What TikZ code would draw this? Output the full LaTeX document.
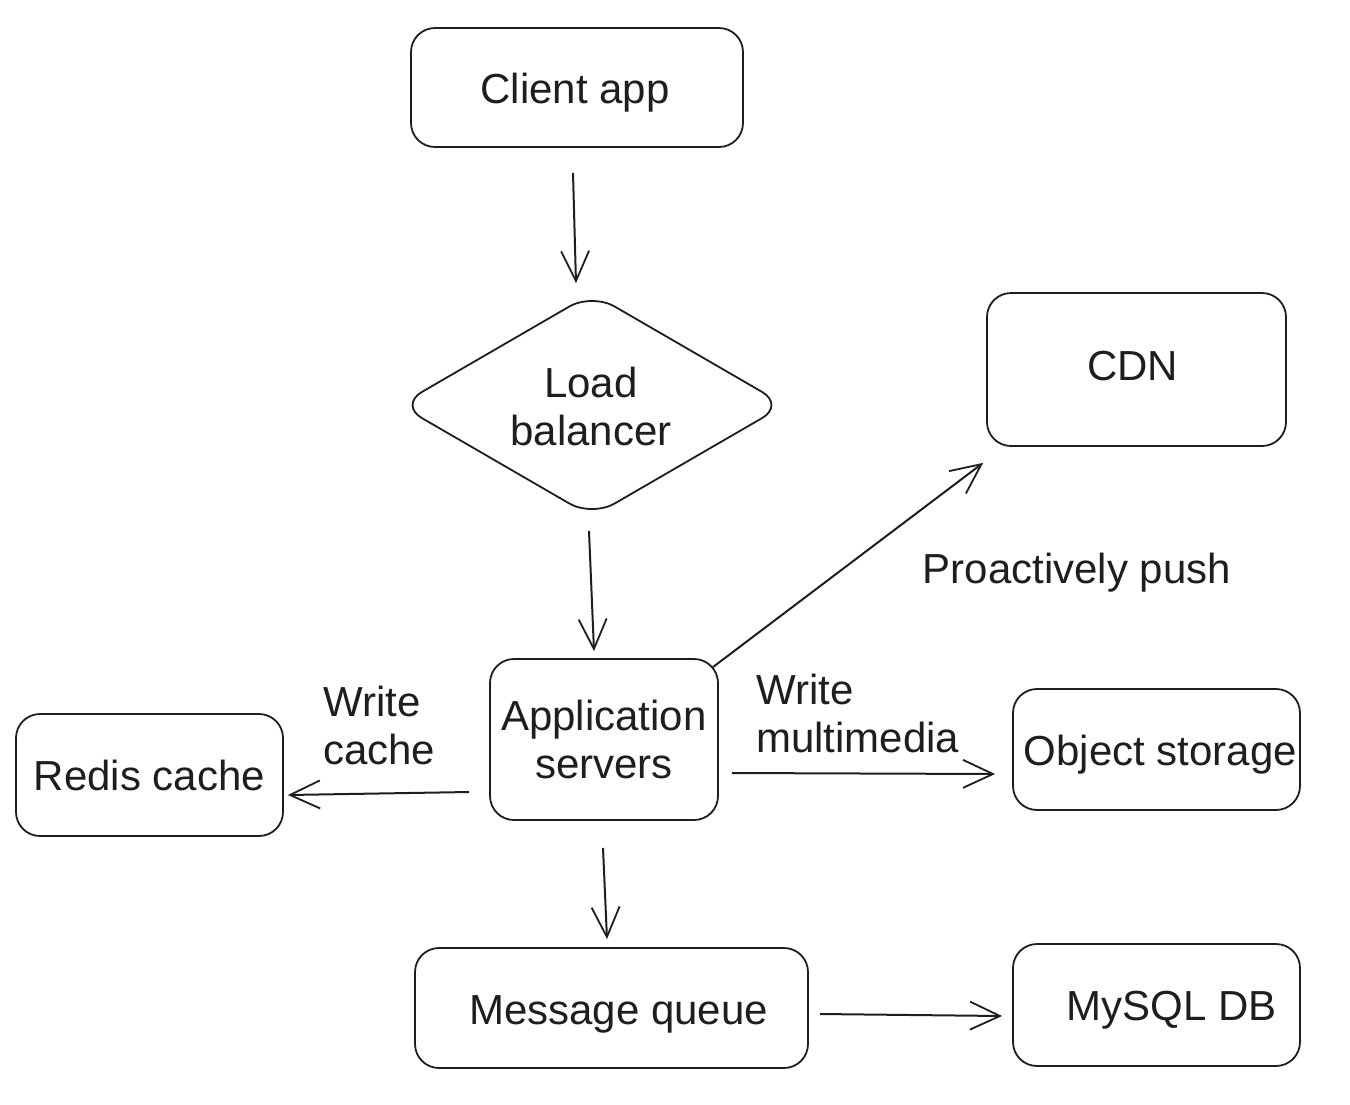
\documentclass[tikz,border=0pt]{standalone}
\usepackage{fontspec}
\setmainfont{Liberation Sans}
\usetikzlibrary{arrows.meta,calc,shapes.geometric}
\definecolor{ink}{HTML}{1E1E1E}
\tikzset{
  box/.style={draw=ink, line width=1.8pt, rounded corners=24pt, inner sep=0pt, align=center, text=ink},
  lbl/.style={inner sep=0pt, text=ink, align=left},
  intext/.style={text=ink, align=center},
  arr/.style={draw=ink, line width=2pt, -{Straight Barb[length=30pt,width=28pt,line width=1.8pt]}}
}
\begin{document}
\begin{tikzpicture}[x=1pt,y=-1pt,font=\fontsize{42}{48}\selectfont]
\useasboundingbox (0,0) rectangle (1350,1104);
\node[box, minimum width=332pt, minimum height=119pt, label={[intext,xshift=-2pt,yshift=-5pt]center:Client app}] (client) at (577,87.5) {};
\node[box, diamond, rounded corners=26pt, minimum width=386pt, minimum height=224pt] (lb) at (592,405) {};
\node[lbl, align=center] (lbtext) at (591,406) {Load\\balancer};
\node[box, minimum width=299pt, minimum height=153pt, label={[intext,xshift=-4pt,yshift=3pt]center:CDN}] (cdn) at (1136.5,369.5) {};
\node[box, minimum width=228pt, minimum height=161pt] (app) at (604,739.5) {Application\\servers};
\node[box, minimum width=267pt, minimum height=122pt] (redis) at (149.5,775) {Redis cache};
\node[box, minimum width=287pt, minimum height=121pt, label={[intext,xshift=4pt,yshift=-5pt]center:Object storage}] (obj) at (1156.5,749.5) {};
\node[box, minimum width=393pt, minimum height=120pt, label={[intext,xshift=7pt,yshift=-6pt]center:Message queue}] (mq) at (611.5,1008) {};
\node[box, minimum width=287pt, minimum height=122pt, label={[intext,xshift=15pt,yshift=-5pt]center:MySQL DB}] (mysql) at (1156.5,1005) {};
\node[lbl] (push) at (1077,573) {Proactively push};
\node[lbl, anchor=west] (wmm) at (756,713) {Write\\multimedia};
\node[lbl, anchor=west] (wc) at (323,725) {Write\\cache};
\draw[arr] ($(client.south)+(-4,25)$) -- ($(lb.north)+(-16,-9)$);
\draw[arr] ($(lb.south)+(-3,13)$) -- ($(app.north)+(-10,-7)$);
\draw[arr] ($(app.north east)+(-6,9)$) -- ($(cdn.south west)+(-3,16)$);
\draw[arr] ($(app.east)+(13,33.5)$) -- ($(obj.west)+(-17,24.5)$);
\draw[arr] ($(app.west)+(-20,52.5)$) -- ($(redis.east)+(4,20)$);
\draw[arr] ($(app.south)+(-1,27)$) -- ($(mq.north)+(-4.5,-8)$);
\draw[arr] ($(mq.east)+(11,6)$) -- ($(mysql.west)+(-10,11)$);
\end{tikzpicture}
\end{document}
